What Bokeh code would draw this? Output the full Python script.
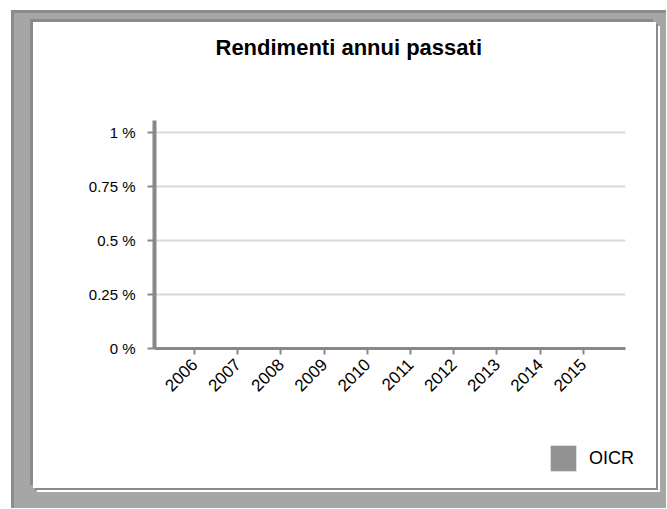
from bokeh.plotting import figure
from bokeh.models import FixedTicker, Range1d, Legend, LegendItem, ColumnDataSource, Title
from bokeh.layouts import column
from bokeh.embed import file_html
from bokeh.resources import INLINE

# ---- data ----
years = ["2006", "2007", "2008", "2009", "2010", "2011", "2012", "2013", "2014", "2015"]
oicr = [0, 0, 0, 0, 0, 0, 0, 0, 0, 0]
y_ticks = [0, 0.25, 0.5, 0.75, 1]
y_tick_labels = ["0 %", "0.25 %", "0.5 %", "0.75 %", "1 %"]
series_name = "OICR"
title_text = "Rendimenti annui passati"

FONT = "Liberation Sans"
AXIS_COL = "#888888"
BAR_COL = "#929292"

xs = list(range(len(years)))
src = ColumnDataSource(dict(x=xs, top=oicr, year=years))

# ---------------- main chart ----------------
p = figure(width=623, height=406, output_backend="svg", toolbar_location=None, title=None,
           x_range=Range1d(-0.926, 9.979), y_range=Range1d(0, 1.055),
           min_border_left=121, min_border_right=31, min_border_top=98, min_border_bottom=80)
p.frame_align = False
p.background_fill_color = "white"
p.border_fill_color = "white"
p.outline_line_color = None

# spacer (nearest the frame) then the real title above it
p.add_layout(Title(text=" ", text_font_size="40px", text_font=FONT), "above")
p.add_layout(Title(text=title_text, text_font=FONT, text_font_size="22px",
                   text_font_style="bold", align="left", offset=61,
                   text_color="#000000"), "above")

r = p.vbar(x="x", top="top", bottom=0, width=0.6, source=src,
           fill_color=BAR_COL, line_color=None)

p.xaxis.ticker = FixedTicker(ticks=xs)
p.xaxis.major_label_overrides = {i: y for i, y in enumerate(years)}
p.xaxis.major_label_orientation = 0.7854
p.xaxis.axis_line_color = AXIS_COL
p.xaxis.axis_line_width = 3
p.xaxis.major_tick_line_color = AXIS_COL
p.xaxis.major_tick_line_width = 2
p.xaxis.major_tick_out = 6
p.xaxis.major_tick_in = 0
p.xaxis.minor_tick_line_color = None
p.xaxis.major_label_text_font = FONT
p.xaxis.major_label_text_font_size = "17px"
p.xaxis.major_label_text_color = "#000000"
p.xaxis.major_label_standoff = 7

p.yaxis.ticker = FixedTicker(ticks=y_ticks)
p.yaxis.major_label_overrides = {t: l for t, l in zip(y_ticks, y_tick_labels)}
p.yaxis.axis_line_color = AXIS_COL
p.yaxis.axis_line_width = 4
p.yaxis.major_tick_line_color = AXIS_COL
p.yaxis.major_tick_line_width = 2
p.yaxis.major_tick_out = 7
p.yaxis.major_tick_in = 0
p.yaxis.minor_tick_line_color = None
p.yaxis.major_label_text_font = FONT
p.yaxis.major_label_text_font_size = "15px"
p.yaxis.major_label_text_color = "#000000"
p.yaxis.major_label_standoff = 12

p.xgrid.grid_line_color = None
p.ygrid.grid_line_color = "#d9d9d9"
p.ygrid.grid_line_width = 2

# ---------------- legend strip ----------------
lg = figure(width=623, height=60, output_backend="svg", toolbar_location=None,
            x_axis_type=None, y_axis_type=None, x_range=Range1d(20, 21), y_range=Range1d(0, 1),
            min_border_left=514, min_border_right=0, min_border_top=14, min_border_bottom=0)
lg.frame_align = False
lg.background_fill_color = "white"
lg.border_fill_color = "white"
lg.outline_line_color = None
r2 = lg.vbar(x="x", top="top", bottom=0, width=0.6, source=src,
             fill_color=BAR_COL, line_color=None)
legend = Legend(items=[LegendItem(label=series_name, renderers=[r2])],
                location="top_left", orientation="vertical",
                glyph_width=32, glyph_height=32, label_standoff=10,
                padding=0, margin=0, border_line_color=None, background_fill_alpha=0,
                label_text_font=FONT, label_text_font_size="18px", label_text_color="#000000")
lg.add_layout(legend, "center")

inner = column(p, lg, margin=(12, 10, 20, 22), spacing=0,
               styles={"background-color": "#ffffff",
                       "box-shadow": "-3px -3px 0 0 #8a8a8a, 2px 2px 0 0 #8a8a8a, 4px 4px 0 0 #ffffff"})
layout = column(inner, margin=(10, 0, 0, 11),
                styles={"background-color": "#a6a6a6",
                        "box-shadow": "inset 3px 3px 0 0 #8c8c8c"})

open("out.html", "w").write(file_html(layout, INLINE))
